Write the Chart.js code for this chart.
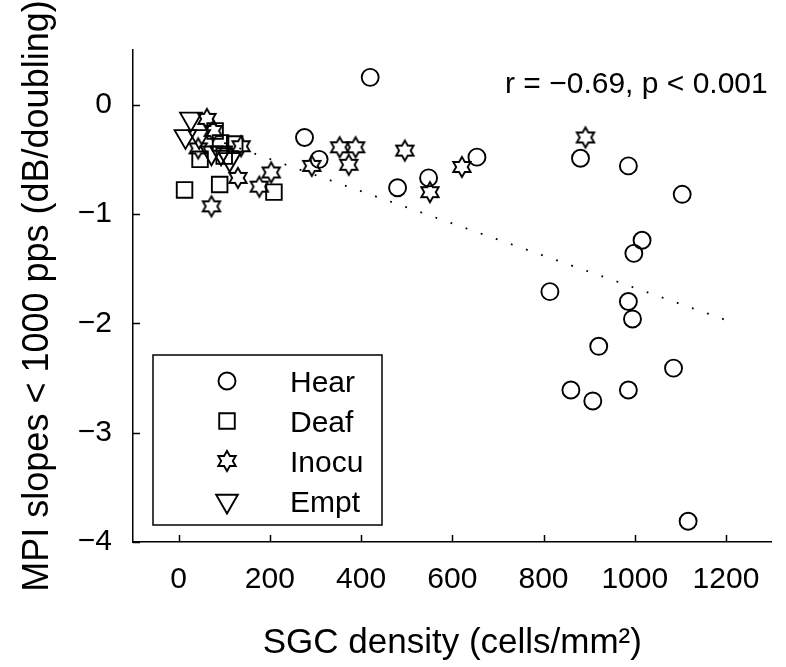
<!DOCTYPE html>
<html>
<head>
<meta charset="utf-8">
<script src="https://cdn.jsdelivr.net/npm/chart.js@4"></script>
<style>
  body { margin: 0; background: #fff; }
  #chart { display: block; }
</style>
</head>
<body>
<canvas id="chart" width="786" height="667"></canvas>
<script>
// data
const hearX = [420, 276, 308, 480, 548, 654, 881, 986, 1104, 1016, 998, 814, 986, 995, 921, 1085, 860, 908, 986, 1117];
const hearY = [0.25, -0.30, -0.50, -0.76, -0.67, -0.48, -0.49, -0.56, -0.82, -1.24, -1.36, -1.71, -1.80, -1.96, -2.21, -2.41, -2.61, -2.71, -2.61, -3.81];
const deafX = [13, 90, 209, 47, 80, 92, 123, 100];
const deafY = [-0.78, -0.73, -0.80, -0.50, -0.24, -0.35, -0.36, -0.47];
const inocuX = [62, 76, 43, 137, 130, 72, 177, 203, 292, 353, 388, 373, 496, 551, 621, 892];
const inocuY = [-0.13, -0.24, -0.40, -0.38, -0.67, -0.93, -0.75, -0.62, -0.56, -0.39, -0.39, -0.55, -0.42, -0.80, -0.57, -0.30];
const emptX = [27, 15, 45, 72, 93, 112];
const emptY = [-0.13, -0.29, -0.29, -0.44, -0.44, -0.50];
const fitX = [100, 1200];
const fitY = [-0.35, -1.97];
const groupNames = ['Hear', 'Deaf', 'Inocu', 'Empt'];
const xTicks = [0, 200, 400, 600, 800, 1000, 1200];
const yTicks = [-4, -3, -2, -1, 0];
const statText = 'r = \u22120.69, p < 0.001';

const FONT = '"Liberation Sans", Arial, Helvetica, sans-serif';

function pts(xs, ys) {
    return xs.map((x, i) => ({ x: x, y: ys[i] }));
}

// six-pointed star marker (not in Chart.js)
function makeStar() {
    const c = document.createElement('canvas');
    c.width = 26; c.height = 26;
    const g = c.getContext('2d');
    const R = 10, r = R / Math.sqrt(3);
    g.beginPath();
    for (let k = 0; k < 12; k++) {
        const a = -Math.PI / 2 + k * Math.PI / 6;
        const rad = k % 2 === 0 ? R : r;
        const px = 13 + rad * Math.cos(a), py = 13 + rad * Math.sin(a);
        if (k === 0) g.moveTo(px, py); else g.lineTo(px, py);
    }
    g.closePath();
    g.lineWidth = 1.9;
    g.lineJoin = 'miter';
    g.strokeStyle = '#000';
    g.stroke();
    return c;
}
const starImg = makeStar();

const markers = [
    { pointStyle: 'circle', radius: 8.5, rotation: 0 },
    { pointStyle: 'rect', radius: 11, rotation: 0 },
    { pointStyle: starImg, radius: 9, rotation: 0 },
    { pointStyle: 'triangle', radius: 12.5, rotation: 180 }
];

const seriesData = [pts(hearX, hearY), pts(deafX, deafY), pts(inocuX, inocuY), pts(emptX, emptY)];

const datasets = groupNames.map((name, i) => ({
    label: name,
    data: seriesData[i],
    pointStyle: markers[i].pointStyle,
    pointRadius: markers[i].radius,
    pointRotation: markers[i].rotation,
    pointBorderColor: '#000',
    pointBackgroundColor: 'rgba(0,0,0,0)',
    pointBorderWidth: 1.9,
    showLine: false
}));

datasets.push({
    type: 'line',
    label: 'fit',
    data: pts(fitX, fitY),
    borderColor: '#000',
    borderWidth: 1.8,
    borderDash: [1.8, 14.2],
    borderCapStyle: 'butt',
    pointRadius: 0,
    fill: false
});

// inward ticks, stat text and boxed legend
const extras = {
    id: 'extras',
    afterDraw(chart) {
        const ctx = chart.ctx;
        const xs = chart.scales.x, ys = chart.scales.y;
        const area = chart.chartArea;
        ctx.save();
        ctx.strokeStyle = '#000';
        ctx.lineWidth = 1.5;
        ctx.beginPath();
        xTicks.forEach(v => {
            const px = Math.round(xs.getPixelForValue(v)) + 0.5;
            ctx.moveTo(px, area.bottom);
            ctx.lineTo(px, area.bottom - 7);
        });
        yTicks.forEach(v => {
            const py = Math.round(ys.getPixelForValue(v)) + 0.5;
            ctx.moveTo(area.left, py);
            ctx.lineTo(area.left + 7, py);
        });
        ctx.stroke();

        ctx.fillStyle = '#000';
        ctx.font = '30px ' + FONT;
        ctx.textBaseline = 'alphabetic';
        ctx.textAlign = 'left';
        ctx.fillText(statText, area.left + 372, area.top + 43);

        // legend
        const bx = area.left + 20, by = area.top + 305, bw = 229, bh = 170;
        ctx.lineWidth = 1.5;
        ctx.strokeRect(bx, by, bw, bh);
        groupNames.forEach((name, i) => {
            const cy = by + 26 + i * 40;
            ctx.save();
            ctx.fillStyle = 'rgba(0,0,0,0)';
            ctx.strokeStyle = '#000';
            ctx.lineWidth = 1.9;
            Chart.helpers.drawPoint(ctx, {
                pointStyle: markers[i].pointStyle,
                radius: markers[i].radius,
                rotation: markers[i].rotation,
                borderWidth: 1.9
            }, bx + 74, cy);
            ctx.restore();
            ctx.fillStyle = '#000';
            ctx.fillText(name, bx + 137, cy + 11);
        });
        ctx.restore();
    }
};

function minusLabel(v) {
    return v < 0 ? '\u2212' + Math.abs(v) : String(v);
}

new Chart(document.getElementById('chart'), {
    type: 'scatter',
    data: { datasets: datasets },
    options: {
        responsive: false,
        animation: false,
        devicePixelRatio: 1,
        layout: { padding: { top: 50, right: 3, left: 0, bottom: 0 } },
        plugins: {
            legend: { display: false },
            tooltip: { enabled: false }
        },
        scales: {
            x: {
                type: 'linear',
                min: -100,
                max: 1300,
                afterBuildTicks: s => { s.ticks = xTicks.map(v => ({ value: v })); },
                afterFit: s => { s.height = 125; },
                grid: { display: false, drawTicks: false },
                border: { display: true, color: '#000', width: 1.5 },
                ticks: {
                    color: '#000',
                    padding: 20,
                    maxRotation: 0,
                    font: { family: FONT, size: 30 },
                    callback: v => minusLabel(v)
                },
                title: {
                    display: true,
                    text: 'SGC density (cells/mm\u00b2)',
                    color: '#000',
                    font: { family: FONT, size: 35 },
                    padding: { top: 0, bottom: 3 }
                }
            },
            y: {
                type: 'linear',
                min: -4,
                max: 0.5,
                afterBuildTicks: s => { s.ticks = yTicks.map(v => ({ value: v })); },
                afterFit: s => { s.width = 133; },
                grid: { display: false, drawTicks: false },
                border: { display: true, color: '#000', width: 1.5 },
                ticks: {
                    color: '#000',
                    padding: 21,
                    font: { family: FONT, size: 30 },
                    callback: v => minusLabel(v)
                },
                title: {
                    display: true,
                    text: 'MPI slopes < 1000 pps (dB/doubling)',
                    color: '#000',
                    font: { family: FONT, size: 36 },
                    padding: { top: 16, bottom: 0 }
                }
            }
        }
    },
    plugins: [extras]
});
</script>
</body>
</html>
